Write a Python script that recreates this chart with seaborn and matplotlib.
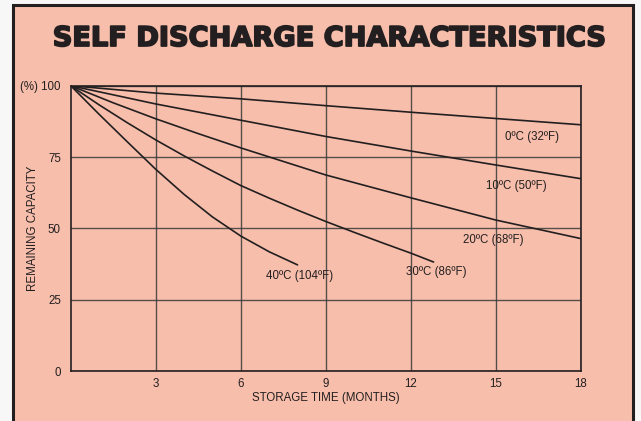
import matplotlib
matplotlib.use("Agg")
import matplotlib.pyplot as plt
from matplotlib.patches import Rectangle
import matplotlib.patheffects as pe
import numpy as np
import pandas as pd
import seaborn as sns

# ---- data ----
months_0 = [0, 3, 6, 9, 12, 15, 18]
cap_0c = [100, 97.4, 95.4, 93.0, 90.7, 88.5, 86.3]
months_10 = [0, 3, 6, 9, 12, 15, 18]
cap_10c = [100, 93.6, 87.9, 82.2, 77.1, 72.2, 67.4]
months_20 = [0, 1.5, 3, 4.5, 6, 9, 12, 15, 18]
cap_20c = [100, 94.0, 88.4, 83.2, 78.2, 68.7, 60.7, 52.9, 46.4]
months_30 = [0, 1, 2, 3, 4, 5, 6, 7, 8, 9, 10, 11, 12, 12.8]
cap_30c = [100, 93.3, 87.0, 81.0, 75.4, 70.1, 65.0, 60.6, 56.4, 52.4, 48.6, 44.9, 41.3, 38.2]
months_40 = [0, 1, 2, 3, 4, 5, 6, 7, 8]
cap_40c = [100, 90.0, 80.3, 70.7, 61.9, 54.0, 47.3, 41.8, 37.2]

series_names = ["0ºC (32ºF)", "10ºC (50ºF)", "20ºC (68ºF)", "30ºC (86ºF)", "40ºC (104ºF)"]
label_x = [16.27, 15.73, 14.92, 12.89, 8.08]
label_y = [82.0, 65.0, 45.9, 34.8, 33.3]

x_ticks = [3, 6, 9, 12, 15, 18]
y_ticks = [0, 25, 50, 75, 100]
y_tick_labels = ["0", "25", "50", "75", "(%) 100"]

title = "SELF DISCHARGE CHARACTERISTICS"
x_label = "STORAGE TIME (MONTHS)"
y_label = "REMAINING CAPACITY"

# ---- build long-form table ----
frames = []
for name, xs, ys in zip(series_names,
                        [months_0, months_10, months_20, months_30, months_40],
                        [cap_0c, cap_10c, cap_20c, cap_30c, cap_40c]):
    frames.append(pd.DataFrame({"month": xs, "capacity": ys, "temp": name}))
df = pd.concat(frames, ignore_index=True)

sns.set_theme(style="white")
plt.rcParams["font.family"] = ["Liberation Sans", "DejaVu Sans"]

salmon = "#F7BEAB"
dark = "#231F20"

W, H = 641, 421
fig = plt.figure(figsize=(W / 100, H / 100), dpi=100)
fig.patch.set_facecolor("#F7F7F7")

# salmon panel with dark border (drawn beneath the axes)
fig.patches.append(Rectangle((12.7 / W, -0.05), (633 - 12.7) / W, (H - 5 + 0.05 * H) / H,
                             transform=fig.transFigure, facecolor=salmon,
                             edgecolor=dark, linewidth=2.2, zorder=-5))

ax = fig.add_axes([70.7 / W, (H - 371) / H, (581 - 70.7) / W, (371 - 85.7) / H])
ax.set_zorder(2)
ax.set_facecolor(salmon)

sns.lineplot(data=df, x="month", y="capacity", hue="temp", sort=False,
             palette=[dark] * len(series_names), linewidth=1.2, legend=False,
             ax=ax, zorder=3)

ax.set_xlim(0, 18)
ax.set_ylim(0, 100)
ax.set_xticks(x_ticks)
ax.set_yticks(y_ticks)
ax.set_yticklabels(y_tick_labels)
ax.tick_params(axis="both", length=0, labelsize=8.3, colors=dark)
ax.tick_params(axis="x", pad=5)
ax.tick_params(axis="y", pad=7)
ax.grid(True, color="#3a3a3a", linewidth=1.0, alpha=0.85, zorder=1)
for s in ax.spines.values():
    s.set_color(dark)
    s.set_linewidth(1.2)

ax.set_xlabel(x_label, fontsize=8.3, color=dark)
ax.set_ylabel(y_label, fontsize=8.3, color=dark)
ax.xaxis.set_label_coords((326 - 70.7) / (581 - 70.7), -(398 - 371) / (371 - 85.7))
ax.yaxis.set_label_coords(-(70.7 - 33) / (581 - 70.7), (371 - 228) / (371 - 85.7))
ax.xaxis.label.set_va("center")
ax.yaxis.label.set_va("center")

for name, lx, ly in zip(series_names, label_x, label_y):
    ax.text(lx, ly, name, fontsize=8.3, color=dark, ha="center", va="center", zorder=4)

# title fitted to the reference width, thickened to mimic a black-weight face
t = fig.text(330 / W, 1 - 39 / H, title, ha="center", va="center",
             fontsize=21, fontweight="heavy", color=dark,
             family=["DejaVu Sans"],
             path_effects=[pe.withStroke(linewidth=1.3, foreground=dark)])
fig.canvas.draw()
bb = t.get_window_extent(renderer=fig.canvas.get_renderer())
t.set_fontsize(21 * 552 / bb.width)

fig.savefig("out.png", dpi=100, facecolor=fig.get_facecolor())
